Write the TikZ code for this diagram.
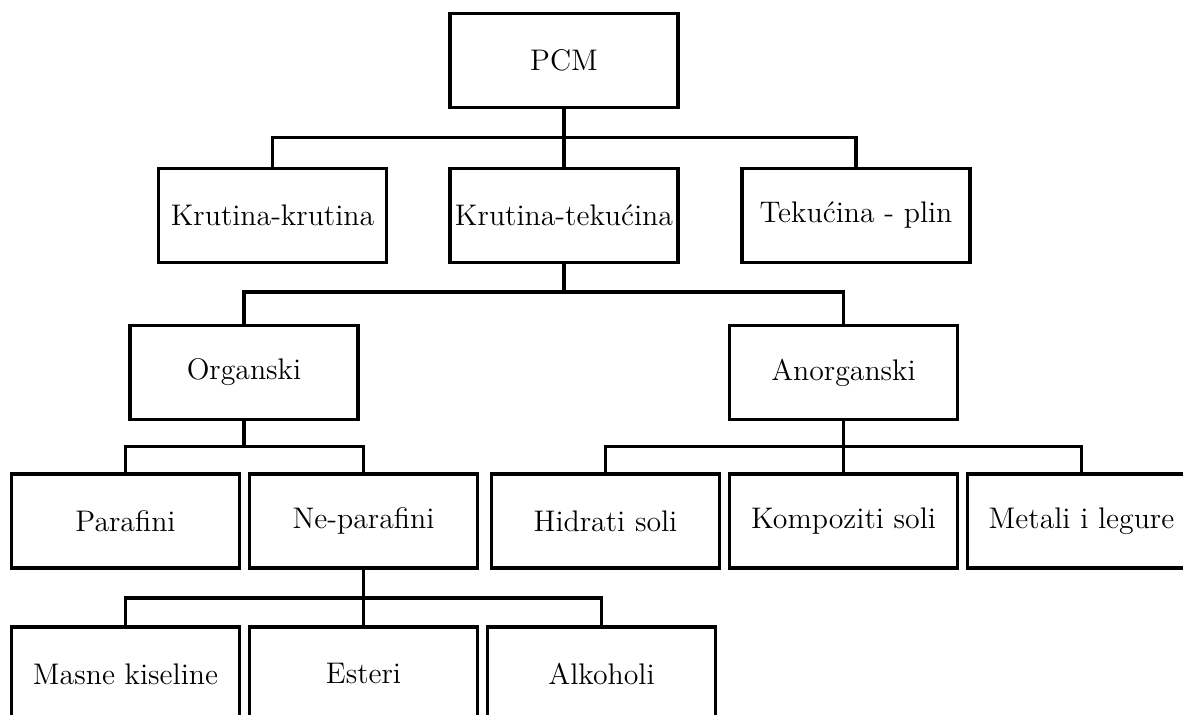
\documentclass[tikz,border=0pt]{standalone}
\usepackage{fontspec}
\begin{document}
\begin{tikzpicture}[x=0.5pt,y=-0.5pt,
  box/.style={draw, line width=1.6pt, minimum width=114pt, minimum height=47pt, inner sep=0pt, font=\fontsize{14.9}{17.5}\selectfont},
  link/.style={line width=1.6pt}]
\useasboundingbox (0,0) rectangle (1183,715);
% level 1
\node[box] (pcm) at (564,60.5) {PCM};
% level 2
\node[box] (kk) at (272.5,215.5) {Krutina-krutina};
\node[box] (kt) at (564,215.5) {Krutina-tekućina};
\node[box] (tp) at (856,215.5) {Tekućina - plin};
% level 3
\node[box] (org) at (244,372.5) {Organski};
\node[box] (anorg) at (843.5,372.5) {Anorganski};
% level 4
\node[box] (par) at (125.5,521) {Parafini};
\node[box] (nepar) at (363.5,521) {Ne-parafini};
\node[box] (hid) at (605.5,521) {Hidrati soli};
\node[box] (komp) at (843.5,521) {Kompoziti soli};
\node[box] (met) at (1081.5,521) {Metali i legure};
% level 5
\node[box] (masne) at (125.5,674) {Masne kiseline};
\node[box] (est) at (363.5,674) {Esteri};
\node[box] (alk) at (601.5,674) {Alkoholi};
% bar levels
\coordinate (b1) at (0,137.5);
\coordinate (b2) at (0,292);
\coordinate (b3) at (0,446.5);
\coordinate (b4) at (0,598);
% connectors
\foreach \c in {kk,kt,tp}
  \draw[link] (pcm.south) -- (pcm.south |- b1) -| (\c.north);
\foreach \c in {org,anorg}
  \draw[link] (kt.south) -- (kt.south |- b2) -| (\c.north);
\foreach \c in {par,nepar}
  \draw[link] (org.south) -- (org.south |- b3) -| (\c.north);
\foreach \c in {hid,komp,met}
  \draw[link] (anorg.south) -- (anorg.south |- b3) -| (\c.north);
\foreach \c in {masne,est,alk}
  \draw[link] (nepar.south) -- (nepar.south |- b4) -| (\c.north);
\end{tikzpicture}
\end{document}
